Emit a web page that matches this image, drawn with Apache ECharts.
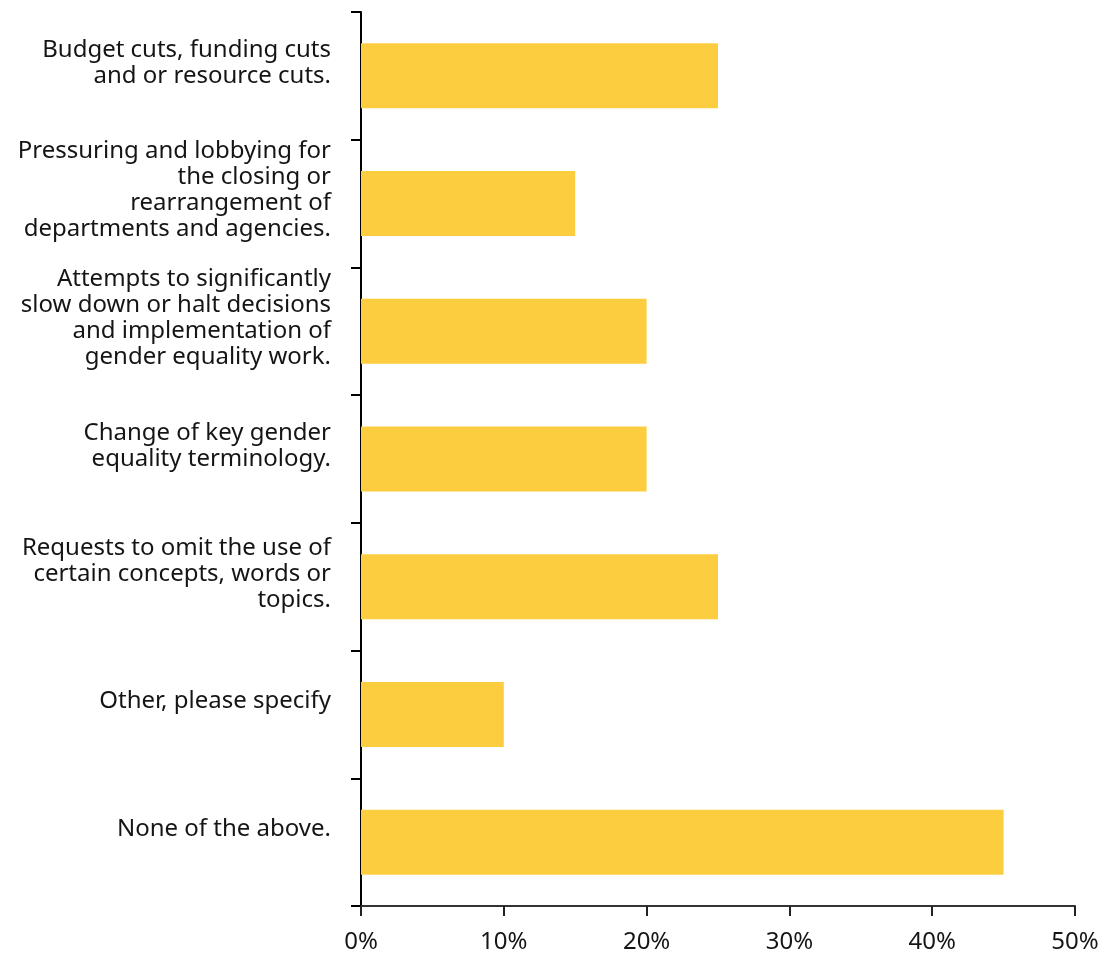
<!DOCTYPE html>
<html>
<head>
<meta charset="utf-8">
<script src="https://cdn.jsdelivr.net/npm/echarts@6/dist/echarts.min.js"></script>
<style>
  html, body { margin: 0; padding: 0; background: #fff; }
  #chart { width: 1107px; height: 955px; }
</style>
</head>
<body>
<div id="chart"></div>
<script>
// categories, top to bottom
const categories = [
  'Budget cuts, funding cuts\nand or resource cuts.',
  'Pressuring and lobbying for\nthe closing or\nrearrangement of\ndepartments and agencies.',
  'Attempts to significantly\nslow down or halt decisions\nand implementation of\ngender equality work.',
  'Change of key gender\nequality terminology.',
  'Requests to omit the use of\ncertain concepts, words or\ntopics.',
  'Other, please specify',
  'None of the above.'
];
// share of respondents, %
const shares = [25, 15, 20, 20, 25, 10, 45];

const chart = echarts.init(document.getElementById('chart'));
chart.setOption({
  animation: false,
  textStyle: { fontFamily: '"Noto Sans", sans-serif' },
  grid: { left: 361, right: 32, top: 12, bottom: 49, containLabel: false },
  xAxis: {
    type: 'value',
    min: 0,
    max: 50,
    interval: 10,
    axisLine: { show: true, lineStyle: { color: '#333', width: 2 } },
    axisTick: { show: true, length: 10, lineStyle: { color: '#222', width: 2 } },
    splitLine: { show: false },
    axisLabel: {
      formatter: '{value}%',
      color: '#151515',
      fontSize: 24,
      margin: 24
    }
  },
  yAxis: {
    type: 'category',
    data: categories,
    inverse: true,
    axisLine: { show: true, lineStyle: { color: '#000', width: 2 } },
    axisTick: { show: true, length: 10, alignWithLabel: false, lineStyle: { color: '#000', width: 2 } },
    axisLabel: {
      color: '#151515',
      fontSize: 24,
      lineHeight: 26,
      margin: 30,
      align: 'right',
      // trailing blank line lifts each block like in the source
      formatter: v => v + '\n '
    }
  },
  series: [{
    type: 'bar',
    data: shares,
    barWidth: 65,
    itemStyle: { color: '#FDCD40' }
  }]
});
</script>
</body>
</html>
